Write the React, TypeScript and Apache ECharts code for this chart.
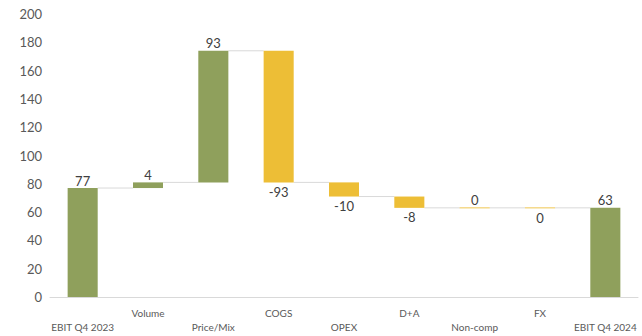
import React, { useEffect, useRef } from "react";
import * as echarts from "echarts";

const categories = [
  "EBIT Q4 2023",
  "Volume",
  "Price/Mix",
  "COGS",
  "OPEX",
  "D+A",
  "Non-comp",
  "FX",
  "EBIT Q4 2024",
];
// change per step (totals for first and last)
const deltas = [77, 4, 93, -93, -10, -8, 0, 0, 63];
const kinds = ["total", "inc", "inc", "dec", "dec", "dec", "dec", "dec", "total"];
const labelAbove = [true, true, true, false, false, false, true, false, true];
const yTicks = { min: 0, max: 200, interval: 20 };

const GREEN = "#8FA05C";
const YELLOW = "#EDBE36";

export default function App() {
  const ref = useRef<HTMLDivElement>(null);
  useEffect(() => {
    document.body.style.margin = "0";
    if (!ref.current) return;
    const chart = echarts.init(ref.current, null, { renderer: "svg" });

    const bases: number[] = [];
    const heights: number[] = [];
    const levels: number[] = [];
    let run = 0;
    deltas.forEach((d, i) => {
      if (kinds[i] === "total") {
        bases.push(0);
        heights.push(d);
        run = d;
      } else {
        const start = run;
        const end = run + d;
        bases.push(Math.min(start, end));
        heights.push(Math.abs(d));
        run = end;
      }
      levels.push(run);
    });

    const connectorData = levels.slice(0, -1).map((lv, i) => [i, lv]);

    chart.setOption({
      animation: false,
      grid: { left: 50, right: 4, top: 14, bottom: 39 },
      xAxis: {
        type: "category",
        data: categories,
        axisTick: { show: false },
        axisLine: { lineStyle: { color: "#D9D9D9", width: 1 } },
        axisLabel: {
          interval: 0,
          color: "#595959",
          fontSize: 10,
          fontFamily: "Lato",
          lineHeight: 14,
          margin: 9,
          formatter: (v: string, i: number) => (i % 2 === 0 ? "\n" + v : v),
        },
      },
      yAxis: {
        type: "value",
        min: yTicks.min,
        max: yTicks.max,
        interval: yTicks.interval,
        splitLine: { show: false },
        axisLine: { show: false },
        axisTick: { show: false },
        axisLabel: { color: "#595959", fontSize: 13, fontFamily: "Lato", margin: 8 },
      },
      series: [
        {
          type: "bar",
          stack: "wf",
          silent: true,
          barWidth: "46%",
          itemStyle: { color: "transparent" },
          data: bases,
        },
        {
          type: "bar",
          stack: "wf",
          barWidth: "46%",
          data: heights.map((h, i) => ({
            value: h,
            itemStyle: {
              color: kinds[i] === "dec" ? YELLOW : GREEN,
              borderColor: kinds[i] === "dec" ? "rgba(237,190,54,0.5)" : GREEN,
              borderWidth: h === 0 ? 1 : 0,
            },
            label: {
              show: true,
              position: labelAbove[i] ? "top" : "bottom",
              distance: labelAbove[i] ? 1 : 3,
            },
          })),
          label: {
            show: true,
            color: "#404040",
            fontSize: 13,
            fontFamily: "Lato",
            formatter: (p: any) => String(deltas[p.dataIndex]),
          },
        },
        {
          type: "custom",
          silent: true,
          z: 1,
          data: connectorData,
          renderItem: (params: any, api: any) => {
            const i = api.value(0);
            const lv = api.value(1);
            const p = api.coord([i, lv]);
            const bw = api.size([1, 0])[0];
            const half = bw * 0.23;
            return {
              type: "line",
              shape: { x1: p[0] + half, y1: p[1], x2: p[0] + bw - half, y2: p[1] },
              style: { stroke: "#D9D9D9", lineWidth: 1 },
            };
          },
        },
      ],
    });
    return () => chart.dispose();
  }, []);
  return <div ref={ref} style={{ width: 642, height: 336 }} />;
}
